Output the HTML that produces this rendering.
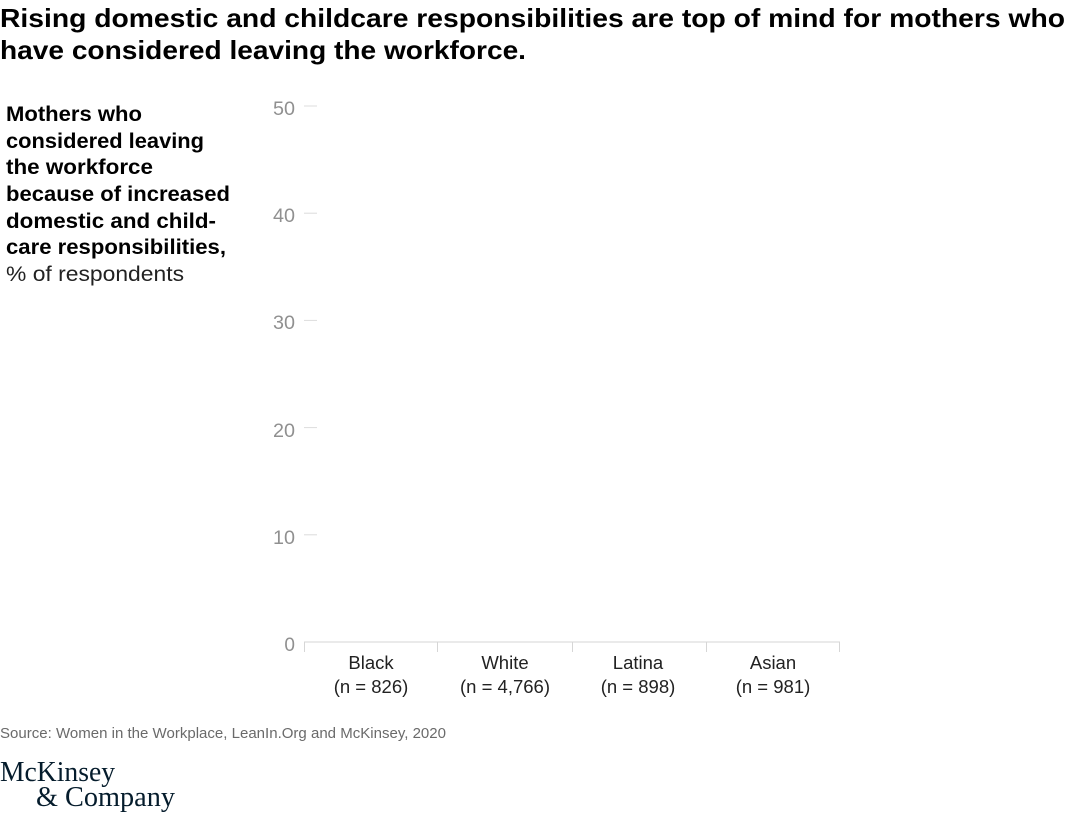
<!DOCTYPE html>
<html>
<head>
<meta charset="utf-8">
<style>
  html, body { margin: 0; padding: 0; background: #fff; }
  svg { display: block; }
  text { font-family: "Liberation Sans", Arial, sans-serif; }
</style>
</head>
<body>
<svg width="1080" height="826" viewBox="0 0 1080 826" xmlns="http://www.w3.org/2000/svg">
  <rect width="1080" height="826" fill="#fff"/>

  <!-- Title -->
  <text x="0" y="27" font-size="26" font-weight="bold" fill="#000" textLength="1065" lengthAdjust="spacingAndGlyphs">Rising domestic and childcare responsibilities are top of mind for mothers who</text>
  <text x="0" y="59" font-size="26" font-weight="bold" fill="#000" textLength="526" lengthAdjust="spacingAndGlyphs">have considered leaving the workforce.</text>

  <!-- Y-axis label -->
  <g font-size="21" font-weight="bold" fill="#000">
    <text x="6" y="121" textLength="136" lengthAdjust="spacingAndGlyphs">Mothers who</text>
    <text x="6" y="148" textLength="198" lengthAdjust="spacingAndGlyphs">considered leaving</text>
    <text x="6" y="174" textLength="147" lengthAdjust="spacingAndGlyphs">the workforce</text>
    <text x="6" y="201" textLength="224" lengthAdjust="spacingAndGlyphs">because of increased</text>
    <text x="6" y="228" textLength="210" lengthAdjust="spacingAndGlyphs">domestic and child-</text>
    <text x="6" y="254" textLength="220" lengthAdjust="spacingAndGlyphs">care responsibilities,</text>
  </g>
  <text x="6" y="281" font-size="21" fill="#222" textLength="178" lengthAdjust="spacingAndGlyphs">% of respondents</text>

  <!-- Y ticks -->
  <g stroke="#dcdcdc" stroke-width="1">
    <line x1="304" y1="106" x2="317" y2="106"/>
    <line x1="304" y1="213.2" x2="317" y2="213.2"/>
    <line x1="304" y1="320.4" x2="317" y2="320.4"/>
    <line x1="304" y1="427.6" x2="317" y2="427.6"/>
    <line x1="304" y1="534.8" x2="317" y2="534.8"/>
  </g>
  <g font-size="19" fill="#909090" text-anchor="end">
    <text x="295" y="115" textLength="22" lengthAdjust="spacingAndGlyphs">50</text>
    <text x="295" y="222" textLength="22" lengthAdjust="spacingAndGlyphs">40</text>
    <text x="295" y="329" textLength="22" lengthAdjust="spacingAndGlyphs">30</text>
    <text x="295" y="437" textLength="22" lengthAdjust="spacingAndGlyphs">20</text>
    <text x="295" y="544" textLength="22" lengthAdjust="spacingAndGlyphs">10</text>
    <text x="295" y="651">0</text>
  </g>

  <!-- X axis baseline & category ticks -->
  <g stroke="#d6d6d6" stroke-width="1">
    <line x1="304" y1="642" x2="840" y2="642"/>
    <line x1="304.5" y1="642" x2="304.5" y2="652"/>
    <line x1="437.5" y1="642" x2="437.5" y2="652"/>
    <line x1="572.5" y1="642" x2="572.5" y2="652"/>
    <line x1="706.5" y1="642" x2="706.5" y2="652"/>
    <line x1="839.5" y1="642" x2="839.5" y2="652"/>
  </g>

  <!-- Category labels -->
  <g font-size="18.5" fill="#222" text-anchor="middle">
    <text x="371" y="669">Black</text>
    <text x="371" y="693">(n = 826)</text>
    <text x="505" y="669">White</text>
    <text x="505" y="693">(n = 4,766)</text>
    <text x="638" y="669">Latina</text>
    <text x="638" y="693">(n = 898)</text>
    <text x="773" y="669">Asian</text>
    <text x="773" y="693">(n = 981)</text>
  </g>

  <!-- Source -->
  <text x="0" y="738" font-size="14.5" fill="#6a6a6a" textLength="446" lengthAdjust="spacingAndGlyphs">Source: Women in the Workplace, LeanIn.Org and McKinsey, 2020</text>

  <!-- Logo -->
  <g fill="#051c2c" font-size="28">
    <text x="0" y="781" style="font-family:'Liberation Serif',serif" textLength="115" lengthAdjust="spacingAndGlyphs">McKinsey</text>
    <text x="36" y="806" style="font-family:'Liberation Serif',serif" textLength="139" lengthAdjust="spacingAndGlyphs">&amp; Company</text>
  </g>
</svg>
</body>
</html>
